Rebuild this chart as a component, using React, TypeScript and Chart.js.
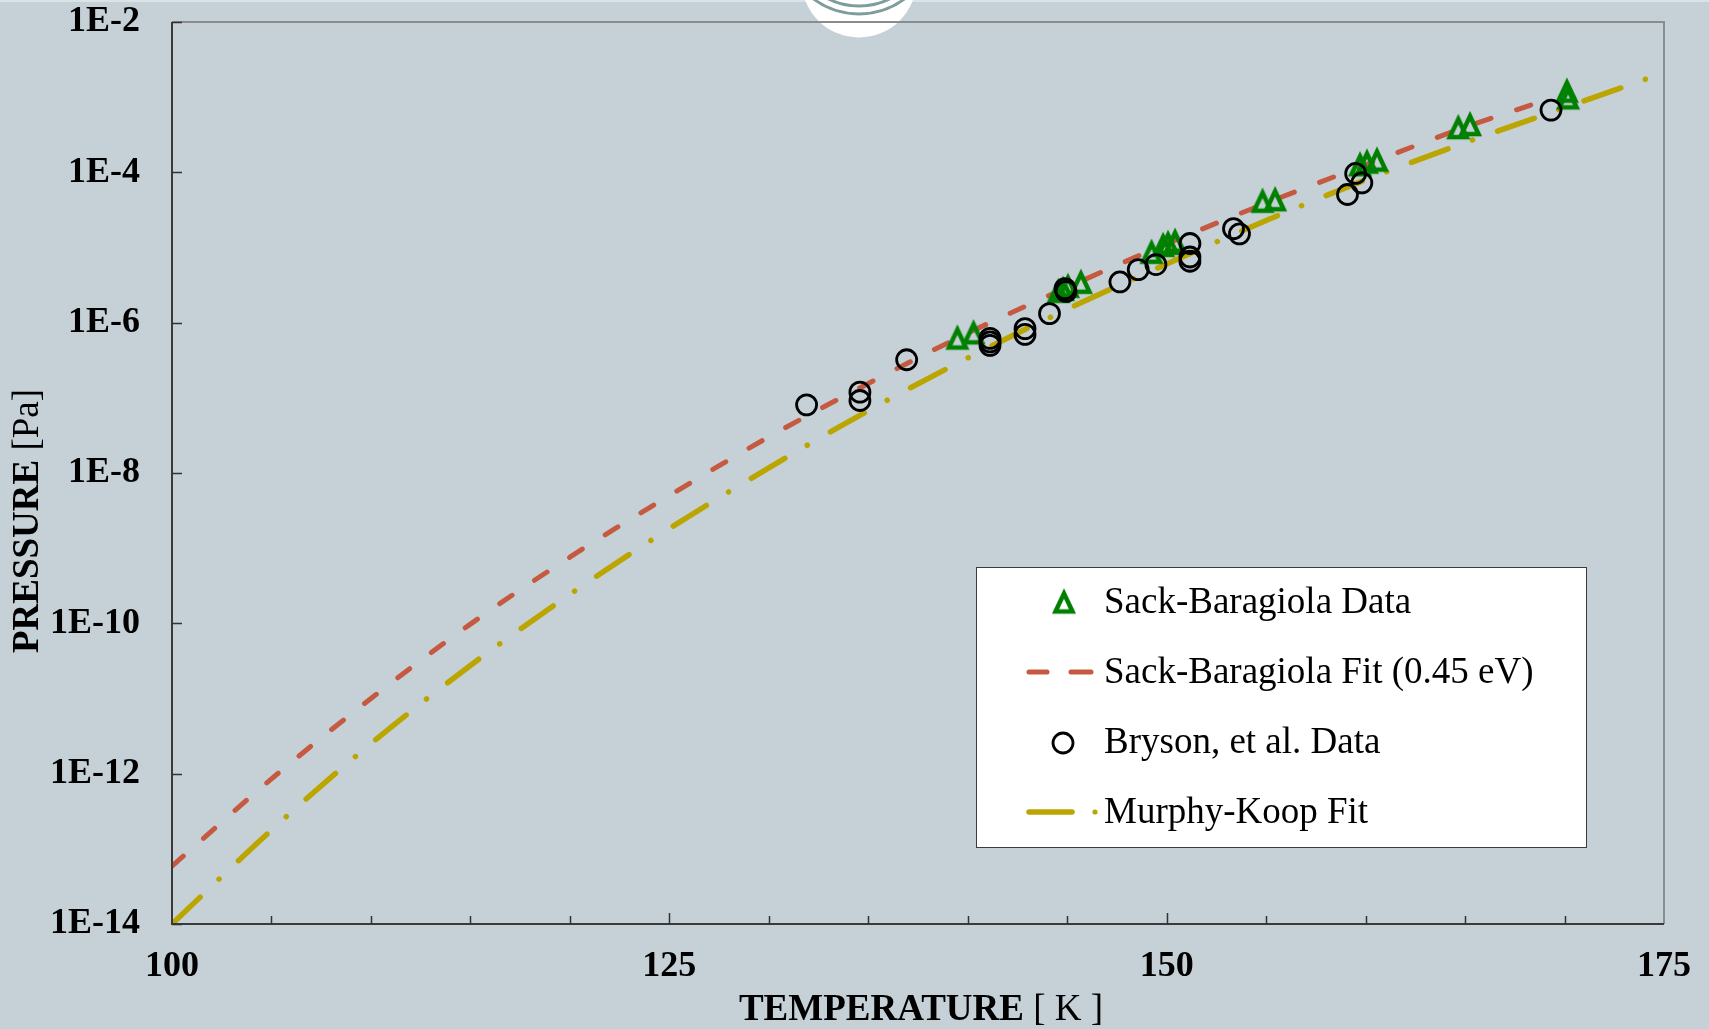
import React, { useEffect, useRef } from "react";
import { Chart, registerables } from "chart.js";

Chart.register(...registerables);

const WIDTH = 1709;
const HEIGHT = 1029;
const PAGE_BG = "#C6D1D7";
const SERIF = "'Liberation Serif', 'Times New Roman', serif";

const GREEN = "#008000";
const RED = "#C55A40";
const GOLD = "#BBA500";

// Sack-Baragiola measured data (triangles)
const sackTemps = [139.48, 140.29, 144.56, 144.79, 145.04, 145.69, 149.24, 149.82, 150.07, 150.42, 154.82, 155.45, 159.72, 160.07, 160.57, 164.66, 165.25, 170.12, 170.18];
const sackPressures = [6.44e-7, 7.55e-7, 2.69e-6, 2.86e-6, 3.14e-6, 3.55e-6, 8.91e-6, 1.1e-5, 1.17e-5, 1.25e-5, 4.26e-5, 4.46e-5, 1.3e-4, 1.41e-4, 1.5e-4, 4.06e-4, 4.45e-4, 1.24e-3, 1.01e-3];

// Bryson, et al. data (circles)
const brysonTemps = [131.9, 134.58, 134.58, 136.93, 141.12, 141.12, 141.12, 142.88, 142.88, 144.11, 144.89, 144.94, 147.65, 148.57, 149.46, 151.17, 151.17, 151.17, 153.36, 153.66, 159.09, 159.5, 159.81, 169.32];
const brysonPressures = [8.07e-8, 1.19e-7, 9.22e-8, 3.21e-7, 6.18e-7, 5.56e-7, 4.99e-7, 8.32e-7, 6.98e-7, 1.32e-6, 2.84e-6, 2.61e-6, 3.48e-6, 5.08e-6, 5.93e-6, 1.13e-5, 7.48e-6, 6.56e-6, 1.78e-5, 1.52e-5, 5.07e-5, 9.66e-5, 7.24e-5, 6.73e-4];

// Sack-Baragiola fit (0.45 eV)
const sackFitTemps = [100, 105, 110, 115, 120, 125, 130, 135, 140, 145, 150, 155, 160, 165, 169.5];
const sackFitPressures = [5.89e-14, 8.51e-13, 1.0e-11, 9.77e-11, 7.59e-10, 5.01e-9, 3.02e-8, 1.55e-7, 7.24e-7, 2.95e-6, 1.12e-5, 3.89e-5, 1.26e-4, 3.98e-4, 1.0e-3];

// Murphy-Koop fit
const mkFitTemps = [100, 105, 110, 115, 120, 125, 130, 135, 140, 145, 150, 155, 160, 165, 170, 174.1];
const mkFitPressures = [1.0e-14, 1.78e-13, 2.51e-12, 2.75e-11, 2.43e-10, 1.82e-9, 1.17e-8, 6.76e-8, 3.39e-7, 1.51e-6, 6.03e-6, 2.29e-5, 7.94e-5, 2.48e-4, 7.24e-4, 1.74e-3];

const yTickExponents = [-14, -12, -10, -8, -6, -4, -2];
const xTickValues = [100, 125, 150, 175];
const xMinorTickValues = [105, 110, 115, 120, 130, 135, 140, 145, 155, 160, 165, 170];
const xMajorInnerTicks = [125, 150];

const legendLabels = ["Sack-Baragiola Data", "Sack-Baragiola Fit (0.45 eV)", "Bryson, et al. Data", "Murphy-Koop Fit"];
const xTitleBold = "TEMPERATURE";
const xTitleRest = " [ K ]";
const yTitleBold = "PRESSURE";
const yTitleRest = " [Pa]";

function makeTriangle(): HTMLCanvasElement {
  const c = document.createElement("canvas");
  c.width = 32;
  c.height = 29;
  const g = c.getContext("2d")!;
  g.strokeStyle = GREEN;
  g.lineWidth = 4.5;
  g.lineJoin = "miter";
  g.beginPath();
  g.moveTo(16, 7);
  g.lineTo(24.5, 25);
  g.lineTo(7.5, 25);
  g.closePath();
  g.stroke();
  return c;
}

export default function App() {
  const ref = useRef<HTMLCanvasElement | null>(null);

  useEffect(() => {
    document.body.style.margin = "0";
    document.body.style.background = PAGE_BG;
    const tri = makeTriangle();
    const canvas = ref.current!;

    const decor = {
      id: "decor",
      beforeDraw(chart: any) {
        const ctx = chart.ctx as CanvasRenderingContext2D;
        ctx.save();
        ctx.fillStyle = "#DCE3E7";
        ctx.fillRect(0, 0, WIDTH, 2);
        ctx.fillStyle = "#FFFFFF";
        ctx.beginPath();
        ctx.arc(859, -20, 57.5, 0, Math.PI * 2);
        ctx.fill();
        ctx.strokeStyle = "#7E9C9C";
        ctx.lineWidth = 3;
        ctx.beginPath();
        ctx.arc(859, -62, 76, 0, Math.PI * 2);
        ctx.stroke();
        ctx.beginPath();
        ctx.arc(859, -62, 68, 0, Math.PI * 2);
        ctx.stroke();
        ctx.restore();
      },
      afterDraw(chart: any) {
        const ctx = chart.ctx as CanvasRenderingContext2D;
        const a = chart.chartArea;
        const xs = chart.scales.x;
        const ys = chart.scales.y;
        ctx.save();
        // frame
        ctx.lineWidth = 2;
        ctx.strokeStyle = "#8C8C8C";
        ctx.beginPath();
        ctx.moveTo(a.left, a.top);
        ctx.lineTo(a.right, a.top);
        ctx.lineTo(a.right, a.bottom);
        ctx.stroke();
        ctx.strokeStyle = "#3A3A3A";
        ctx.beginPath();
        ctx.moveTo(a.left, a.top);
        ctx.lineTo(a.left, a.bottom);
        ctx.lineTo(a.right, a.bottom);
        ctx.stroke();
        // inner tick marks
        ctx.lineWidth = 1.5;
        ctx.strokeStyle = "#333333";
        ctx.beginPath();
        for (const v of xMinorTickValues) {
          const x = Math.round(xs.getPixelForValue(v)) + 0.5;
          ctx.moveTo(x, a.bottom);
          ctx.lineTo(x, a.bottom - 8);
        }
        for (const v of xMajorInnerTicks) {
          const x = Math.round(xs.getPixelForValue(v)) + 0.5;
          ctx.moveTo(x, a.bottom);
          ctx.lineTo(x, a.bottom - 11);
        }
        for (const e of yTickExponents) {
          const y = Math.round(ys.getPixelForValue(Math.pow(10, e))) + 0.5;
          ctx.moveTo(a.left, y);
          ctx.lineTo(a.left + 10, y);
        }
        ctx.stroke();

        // axis titles
        const boldFont = `bold 37px ${SERIF}`;
        const regFont = `37px ${SERIF}`;
        ctx.fillStyle = "#000";
        ctx.textBaseline = "alphabetic";
        ctx.textAlign = "left";
        ctx.font = boldFont;
        let wb = ctx.measureText(xTitleBold).width;
        ctx.font = regFont;
        let wr = ctx.measureText(xTitleRest).width;
        const cx = (a.left + a.right) / 2 + 3;
        const sx = cx - (wb + wr) / 2;
        ctx.font = boldFont;
        ctx.fillText(xTitleBold, sx, 1020);
        ctx.font = regFont;
        ctx.fillText(xTitleRest, sx + wb, 1020);

        ctx.font = boldFont;
        wb = ctx.measureText(yTitleBold).width;
        ctx.font = regFont;
        wr = ctx.measureText(yTitleRest).width;
        ctx.save();
        ctx.translate(38, 521);
        ctx.rotate(-Math.PI / 2);
        const sy = -(wb + wr) / 2;
        ctx.font = boldFont;
        ctx.fillText(yTitleBold, sy, 0);
        ctx.font = regFont;
        ctx.fillText(yTitleRest, sy + wb, 0);
        ctx.restore();

        // legend
        const lx = 976, ly = 567, lw = 610, lh = 280;
        ctx.fillStyle = "#FFFFFF";
        ctx.fillRect(lx, ly, lw, lh);
        ctx.strokeStyle = "#3C3C3C";
        ctx.lineWidth = 1;
        ctx.strokeRect(lx + 0.5, ly + 0.5, lw, lh);
        const markerX = 1064;
        const markerYs = [601, 672, 743, 812];
        const textYs = [613, 683, 753, 823];
        // triangle
        ctx.drawImage(tri, markerX - tri.width / 2, markerYs[0] - tri.height / 2);
        // red dashes
        ctx.lineCap = "round";
        ctx.strokeStyle = RED;
        ctx.lineWidth = 5;
        ctx.beginPath();
        ctx.moveTo(1029, markerYs[1]);
        ctx.lineTo(1047, markerYs[1]);
        ctx.moveTo(1071, markerYs[1]);
        ctx.lineTo(1091, markerYs[1]);
        ctx.stroke();
        // circle
        ctx.strokeStyle = "#000";
        ctx.lineWidth = 2.8;
        ctx.beginPath();
        ctx.arc(markerX - 1, markerYs[2], 10, 0, Math.PI * 2);
        ctx.stroke();
        // gold dash-dot
        ctx.strokeStyle = GOLD;
        ctx.lineWidth = 5.5;
        ctx.beginPath();
        ctx.moveTo(1029, markerYs[3]);
        ctx.lineTo(1072, markerYs[3]);
        ctx.stroke();
        ctx.fillStyle = GOLD;
        ctx.beginPath();
        ctx.arc(1095, markerYs[3], 2.6, 0, Math.PI * 2);
        ctx.fill();
        // legend text
        ctx.fillStyle = "#000";
        ctx.font = regFont;
        ctx.textAlign = "left";
        legendLabels.forEach((t, i) => ctx.fillText(t, 1104, textYs[i]));
        ctx.restore();
      },
    };

    const chart = new Chart(canvas, {
      type: "scatter",
      data: {
        datasets: [
          {
            label: legendLabels[2],
            data: brysonTemps.map((t, i) => ({ x: t, y: brysonPressures[i] })),
            pointStyle: "circle",
            pointRadius: 10,
            pointBorderWidth: 2.8,
            pointBorderColor: "#000000",
            pointBackgroundColor: "rgba(0,0,0,0)",
            showLine: false,
          },
          {
            label: legendLabels[0],
            data: sackTemps.map((t, i) => ({ x: t, y: sackPressures[i] })),
            pointStyle: tri as any,
            pointRadius: 12,
            showLine: false,
          },
          {
            label: legendLabels[1],
            data: sackFitTemps.map((t, i) => ({ x: t, y: sackFitPressures[i] })),
            showLine: true,
            borderColor: RED,
            borderWidth: 5,
            borderDash: [15, 27],
            borderCapStyle: "round",
            pointRadius: 0,
            cubicInterpolationMode: "monotone",
            fill: false,
          },
          {
            label: legendLabels[3],
            data: mkFitTemps.map((t, i) => ({ x: t, y: mkFitPressures[i] })),
            showLine: true,
            borderColor: GOLD,
            borderWidth: 5.5,
            borderDash: [39, 26, 0.1, 26.5],
            borderCapStyle: "round",
            pointRadius: 0,
            cubicInterpolationMode: "monotone",
            fill: false,
          },
        ] as any,
      },
      options: {
        responsive: false,
        animation: false,
        devicePixelRatio: 1,
        events: [],
        layout: { padding: { top: 22, right: 45, left: 0, bottom: 0 } },
        plugins: {
          legend: { display: false },
          tooltip: { enabled: false },
          title: { display: false },
        },
        scales: {
          x: {
            type: "linear",
            position: "bottom",
            min: 100,
            max: 175,
            afterBuildTicks: (s: any) => {
              s.ticks = xTickValues.map((v) => ({ value: v }));
            },
            afterFit: (s: any) => {
              s.height = 105;
              s.paddingLeft = 0;
              s.paddingRight = 0;
            },
            grid: { display: false, drawTicks: false },
            border: { display: false },
            ticks: {
              autoSkip: false,
              maxRotation: 0,
              padding: 21,
              color: "#000",
              font: { family: SERIF, size: 36, weight: "bold" },
            },
          },
          y: {
            type: "logarithmic",
            min: 1e-14,
            max: 1e-2,
            afterBuildTicks: (s: any) => {
              s.ticks = yTickExponents.map((e) => ({ value: Math.pow(10, e) }));
            },
            afterFit: (s: any) => {
              s.width = 172;
              s.paddingTop = 0;
              s.paddingBottom = 0;
            },
            grid: { display: false, drawTicks: false },
            border: { display: false },
            ticks: {
              autoSkip: false,
              padding: 32,
              color: "#000",
              font: { family: SERIF, size: 36, weight: "bold" },
              callback: (v: any) => "1E" + Math.round(Math.log10(Number(v))),
            },
          },
        },
      } as any,
      plugins: [decor],
    });
    return () => chart.destroy();
  }, []);

  return (
    <div style={{ width: WIDTH, height: HEIGHT, background: PAGE_BG, overflow: "hidden" }}>
      <canvas ref={ref} width={WIDTH} height={HEIGHT} style={{ display: "block", width: WIDTH, height: HEIGHT }} />
    </div>
  );
}
